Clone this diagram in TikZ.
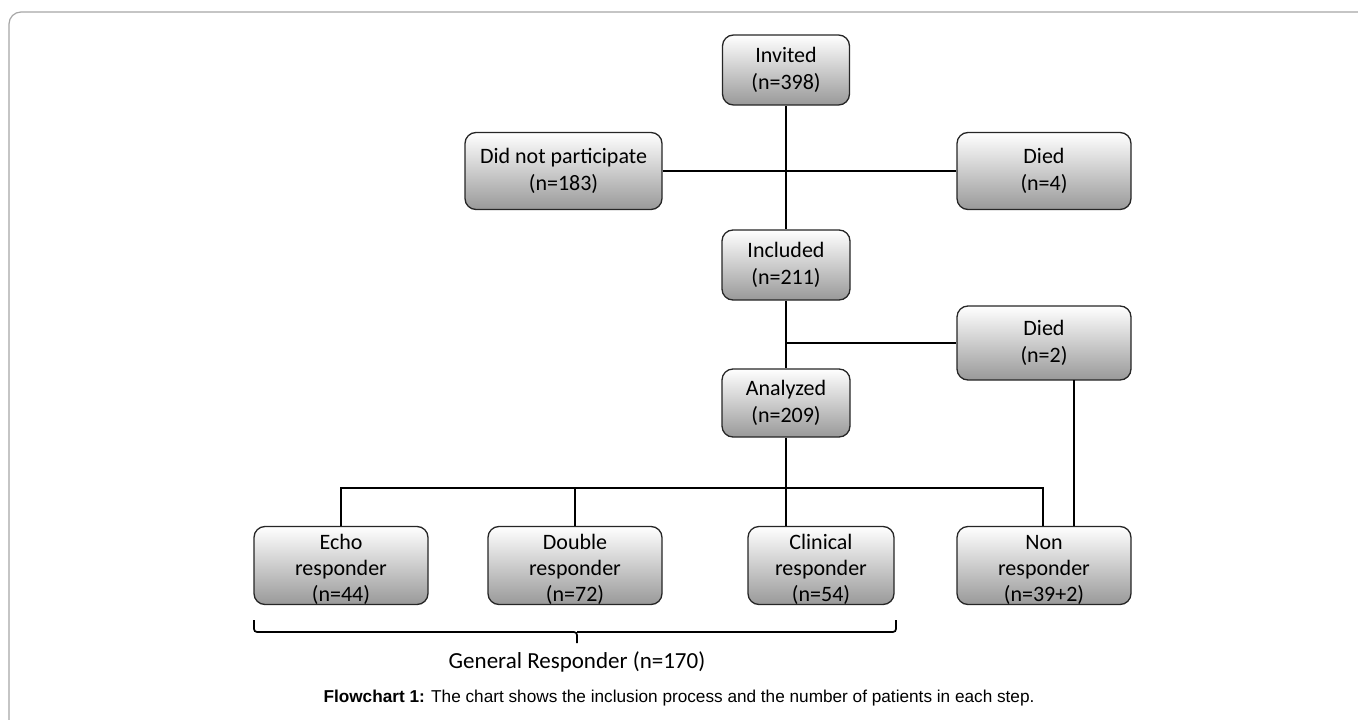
\documentclass[tikz,border=0pt]{standalone}
\usepackage{fontspec}
\setmainfont{Carlito}
\newfontfamily\capfont{Liberation Sans}
\usetikzlibrary{calc}
\newcommand{\lowtext}[1]{\raisebox{-5pt}[\height][\depth]{\begin{tabular}{@{}c@{}}#1\end{tabular}}}
\begin{document}
\begin{tikzpicture}[x=1pt,y=-1pt,
  box/.style={draw=black!85, line width=1.3pt, rounded corners=11pt,
    top color=white, bottom color=black!40, align=center,
    font=\fontsize{22}{27}\selectfont, inner sep=0pt},
  lowbox/.style={box, minimum width=174pt, minimum height=75pt, font=\fontsize{22}{26}\selectfont},
  conn/.style={line width=1.7pt, black}]
\useasboundingbox (0,0) rectangle (1358,720);
\draw[black!35, line width=1.2pt, rounded corners=12pt] (9,720) -- (9,12) -- (1358,12);

\node[box, minimum width=127pt, minimum height=70pt] (inv) at (786,70) {Invited\\(n=398)};
\node[box, minimum width=197pt, minimum height=77pt] (dnp) at (563.5,171) {Did not participate\\(n=183)};
\node[box, minimum width=174pt, minimum height=77pt] (died1) at (1044,171) {Died\\(n=4)};
\node[box, minimum width=128pt, minimum height=70pt] (inc) at (786,265) {Included\\(n=211)};
\node[box, minimum width=174pt, minimum height=74pt] (died2) at (1044,343) {Died\\(n=2)};
\node[box, minimum width=128pt, minimum height=68pt] (ana) at (786,403) {Analyzed\\(n=209)};
\node[lowbox] (echo) at (341,565.5) {\lowtext{Echo\\responder\\(n=44)}};
\node[lowbox] (dbl) at (575,565.5) {\lowtext{Double\\responder\\(n=72)}};
\node[lowbox, minimum width=146pt] (cli) at (821,565.5) {\lowtext{Clinical\\responder\\(n=54)}};
\node[lowbox] (non) at (1044,565.5) {\lowtext{Non\\responder\\(n=39+2)}};

\coordinate (hr) at (1043,488);
\coordinate (j1) at (786,343);
\coordinate (dv) at (1074,380);

\draw[conn] (inv.south) -- (inc.north);
\draw[conn] (dnp.east) -- (died1.west);
\draw[conn] (inc.south) -- (ana.north);
\draw[conn] (j1) -- (died2.west);
\draw[conn] (ana.south) -- (ana.south |- cli.north);
\draw[conn] (echo.north) |- (hr) -- (hr |- non.north);
\draw[conn] (dbl.north) -- (dbl.north |- hr);
\draw[conn] (dv) -- (dv |- non.north);

\coordinate (bl) at (254,620);
\coordinate (br) at (896,620);
\coordinate (bt) at (577,643);
\draw[conn, rounded corners=3pt] (bl) -- (254,632) -- (577,632) -- (bt);
\draw[conn, rounded corners=3pt] (br) -- (896,632) -- (577,632);
\node[font=\fontsize{23}{27}\selectfont] (gr) at (577,662) {General Responder (n=170)};
\node[font=\capfont\fontsize{17.2}{20}\selectfont] (cap) at (679,698) {\textbf{Flowchart 1:} The chart shows the inclusion process and the number of patients in each step.};
\end{tikzpicture}
\end{document}
